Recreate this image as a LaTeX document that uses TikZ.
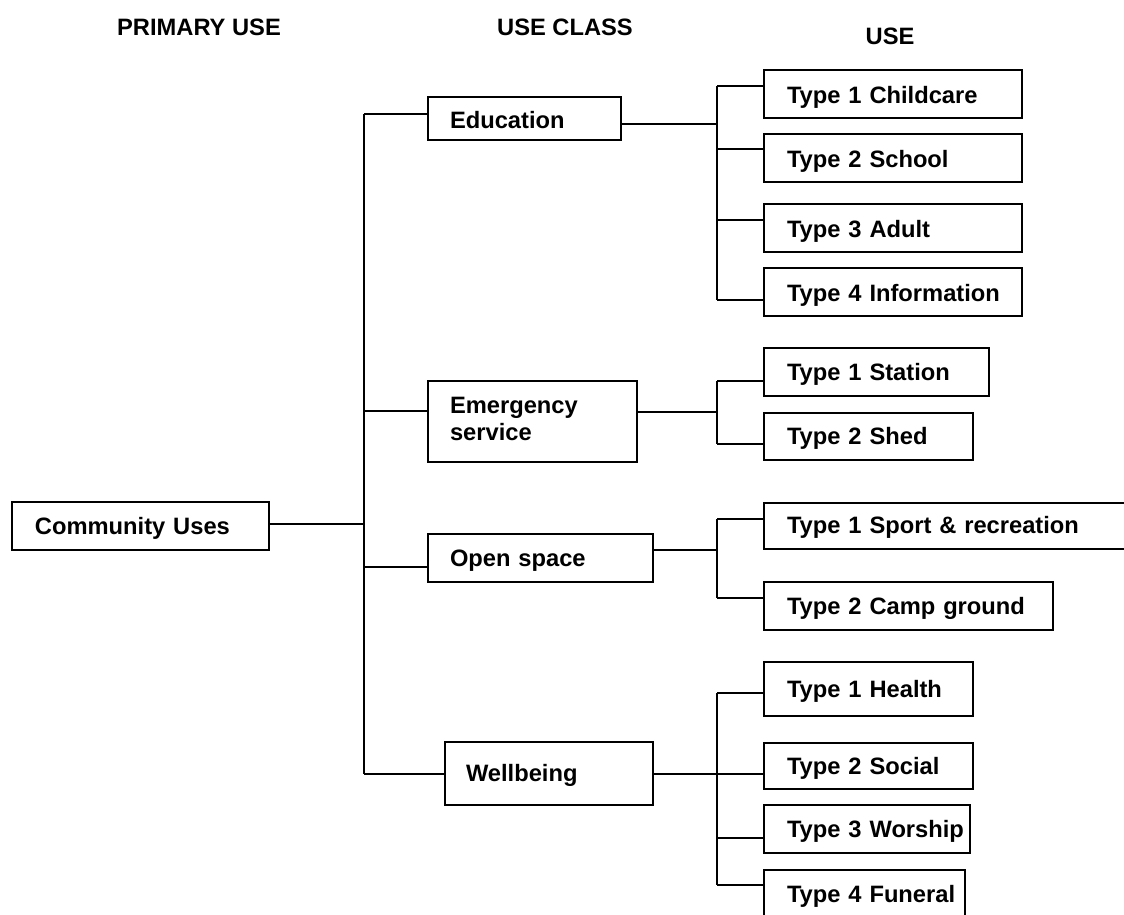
\documentclass[tikz,border=0pt]{standalone}
\usepackage{fontspec}
\setmainfont{Liberation Sans}
\begin{document}
\begin{tikzpicture}[x=1pt,y=-1pt,
  box/.style={draw=black, line width=2pt, fill=white, align=left, inner xsep=0pt, inner ysep=0pt,
    font=\fontsize{23.7}{27}\selectfont\bfseries},
  hdr/.style={inner sep=0pt, font=\fontsize{23.7}{27}\selectfont\bfseries},
  link/.style={draw=black, line width=1.5pt}]
\newcommand\ubox[8]{%
  \pgfmathsetmacro\bw{#4-#2}\pgfmathsetmacro\bh{#5-#3}%
  \node[box, minimum width=\bw pt, minimum height=\bh pt, text width=\bw pt] (#1) at ({(#2+#4)/2},{(#3+#5)/2}) {\hspace*{#6pt}\raisebox{-#8pt}[\height][\depth]{\begin{tabular}{@{}l@{}}#7\end{tabular}}};}
\useasboundingbox (0,0) rectangle (1124,914);
\clip (0,0) rectangle (1124,914);
\fill[white] (0,0) rectangle (1124,914);
% headers
\node[hdr] (h1) at (199,27) {PRIMARY USE};
\node[hdr] (h2) at (565,27) {USE CLASS};
\node[hdr] (h3) at (890,36) {USE};
% junction coordinates
\coordinate (ta) at (364,114);
\coordinate (tb) at (364,411);
\coordinate (tc) at (364,567);
\coordinate (td) at (364,774);
\coordinate (tm) at (364,524);
\coordinate (ea) at (717,124);
\coordinate (e1) at (717,86);
\coordinate (e2) at (717,149);
\coordinate (e3) at (717,220);
\coordinate (e4) at (717,300);
\coordinate (fa) at (717,412);
\coordinate (f1) at (717,381);
\coordinate (f2) at (717,444);
\coordinate (ga) at (717,550);
\coordinate (g1) at (717,519);
\coordinate (g2) at (717,598);
\coordinate (ka) at (717,774);
\coordinate (k1) at (717,693);
\coordinate (k2) at (717,774);
\coordinate (k3) at (717,838);
\coordinate (k4) at (717,885);
% connectors (drawn first, boxes on top)
\draw[link] (ta) -- (td);
\draw[link] (e1) -- (e4);
\draw[link] (f1) -- (f2);
\draw[link] (g1) -- (g2);
\draw[link] (k1) -- (k4);
% boxes
\ubox{cu}{12}{502}{269}{550}{23}{Community Uses}{3}
\ubox{edu}{428}{97}{621}{140}{22}{Education}{5}
\ubox{emg}{428}{381}{637}{462}{22}{Emergency\\service}{0}
\ubox{opn}{428}{534}{653}{582}{22}{Open space}{3}
\ubox{wel}{445}{742}{653}{805}{21}{Wellbeing}{3}
\ubox{c1}{764}{70}{1022}{118}{23}{Type 1 Childcare}{4}
\ubox{c2}{764}{134}{1022}{182}{23}{Type 2 School}{4}
\ubox{c3}{764}{204}{1022}{252}{23}{Type 3 Adult}{4}
\ubox{c4}{764}{268}{1022}{316}{23}{Type 4 Information}{4}
\ubox{s1}{764}{348}{989}{396}{23}{Type 1 Station}{3}
\ubox{s2}{764}{413}{973}{460}{23}{Type 2 Shed}{3}
\ubox{o1}{764}{503}{1150}{549}{23}{Type 1 Sport \& recreation}{2}
\ubox{o2}{764}{582}{1053}{630}{23}{Type 2 Camp ground}{3}
\ubox{w1}{764}{662}{973}{716}{23}{Type 1 Health}{3}
\ubox{w2}{764}{743}{973}{789}{23}{Type 2 Social}{3}
\ubox{w3}{764}{805}{970}{853}{23}{Type 3 Worship}{3}
\ubox{w4}{764}{870}{965}{918}{23}{Type 4 Funeral}{3}
% horizontal links
\draw[link] (cu.east |- tm) -- (tm);
\draw[link] (ta) -- (edu.west |- ta);
\draw[link] (tb) -- (emg.west |- tb);
\draw[link] (tc) -- (opn.west |- tc);
\draw[link] (td) -- (wel.west |- td);
\draw[link] (edu.east |- ea) -- (ea);
\draw[link] (e1) -- (c1.west |- e1);
\draw[link] (e2) -- (c2.west |- e2);
\draw[link] (e3) -- (c3.west |- e3);
\draw[link] (e4) -- (c4.west |- e4);
\draw[link] (emg.east |- fa) -- (fa);
\draw[link] (f1) -- (s1.west |- f1);
\draw[link] (f2) -- (s2.west |- f2);
\draw[link] (opn.east |- ga) -- (ga);
\draw[link] (g1) -- (o1.west |- g1);
\draw[link] (g2) -- (o2.west |- g2);
\draw[link] (wel.east |- ka) -- (ka);
\draw[link] (k1) -- (w1.west |- k1);
\draw[link] (k2) -- (w2.west |- k2);
\draw[link] (k3) -- (w3.west |- k3);
\draw[link] (k4) -- (w4.west |- k4);
\end{tikzpicture}
\end{document}
